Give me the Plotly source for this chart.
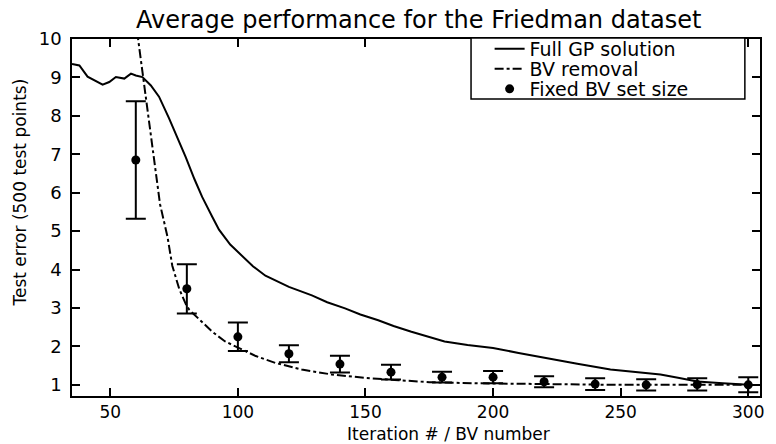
import plotly.graph_objects as go

# ---- data ----
full_x = [35, 37.9, 41.1, 43.75, 47, 49.6, 52.2, 55.5, 58.1, 60, 62.6, 65.9, 69.1, 73, 77,
          79.6, 83, 86, 90, 92.6, 97, 101.7, 106, 110.8, 120, 129, 135, 142, 148, 155,
          161, 168, 175, 181, 190, 200, 210, 220, 233, 246, 256, 265.6, 273, 280, 290, 300]
full_y = [9.35, 9.31, 9.02, 8.93, 8.81, 8.88, 9.01, 8.97, 9.10, 9.05, 9.01, 8.79, 8.50, 7.94, 7.34,
          6.92, 6.35, 5.89, 5.37, 5.04, 4.65, 4.35, 4.08, 3.84, 3.55, 3.33, 3.15, 2.99, 2.83, 2.68,
          2.53, 2.38, 2.25, 2.13, 2.04, 1.96, 1.83, 1.70, 1.55, 1.40, 1.33, 1.27, 1.18, 1.09, 1.04, 1.00]

bv_x = [60.5, 63.3, 66.5, 69.5, 72.4, 74.3, 77, 79.6, 81, 86, 90, 95, 100, 107, 114.7,
        125, 136.7, 150, 163, 175, 194, 220, 250, 300]
bv_y = [10.2, 8.8, 7.1, 5.7, 4.86, 4.1, 3.5, 3.1, 2.95, 2.64, 2.38, 2.13, 1.98, 1.75, 1.57,
        1.40, 1.27, 1.18, 1.12, 1.07, 1.04, 1.02, 1.00, 1.00]

fixed_x = [60, 80, 100, 120, 140, 160, 180, 200, 220, 240, 260, 280, 300]
fixed_y = [6.85, 3.50, 2.25, 1.81, 1.54, 1.33, 1.20, 1.20, 1.08, 1.02, 1.00, 1.01, 1.00]
fixed_err = [1.53, 0.64, 0.37, 0.22, 0.22, 0.19, 0.14, 0.16, 0.145, 0.155, 0.145, 0.16, 0.195]

x_ticks = [50, 100, 150, 200, 250, 300]
y_ticks = [1, 2, 3, 4, 5, 6, 7, 8, 9, 10]

series_names = ["Full GP solution", "BV removal", "Fixed BV set size"]
title_text = "Average performance for the Friedman dataset"
x_title = "Iteration # / BV number"
y_title = "Test error (500 test points)"

FONT = "DejaVu Sans"

fig = go.Figure()
fig.add_trace(go.Scatter(x=full_x, y=full_y, mode="lines", name=series_names[0],
                         legend="legend",
                         line=dict(color="black", width=2)))
fig.add_trace(go.Scatter(x=bv_x, y=bv_y, mode="lines", name=series_names[1],
                         legend="legend2",
                         line=dict(color="black", width=2, dash="dashdot")))
fig.add_trace(go.Scatter(x=fixed_x, y=fixed_y, mode="markers", name=series_names[2],
                         legend="legend3",
                         marker=dict(color="black", size=9, symbol="circle"),
                         error_y=dict(type="data", array=fixed_err, visible=True,
                                      color="black", thickness=2, width=10)))

axis_common = dict(showline=True, linecolor="black", linewidth=1.5, mirror="ticks",
                   ticks="inside", ticklen=8, tickwidth=1.5, tickcolor="black",
                   showgrid=False, zeroline=False)

fig.update_xaxes(range=[35, 304.6], tickvals=x_ticks, ticklabelstandoff=0,
                 tickfont=dict(family=FONT, size=17, color="black"), **axis_common)
fig.update_yaxes(range=[0.71, 10.0], tickvals=y_ticks, ticklabelstandoff=5,
                 tickfont=dict(family=FONT, size=18, color="black"), **axis_common)

# plot area: 72..763 px horizontally, 39..396 px vertically (height 357)
leg_font = dict(family=FONT, size=19, color="black")
leg_x = 0.607
def leg(yc):
    return dict(x=leg_x, xanchor="left", y=yc, yanchor="middle",
                bgcolor="rgba(0,0,0,0)", borderwidth=0, font=leg_font, itemwidth=30)

fig.update_layout(
    width=776, height=444,
    margin=dict(l=72, r=13, t=39, b=48),
    paper_bgcolor="white", plot_bgcolor="white",
    showlegend=True,
    legend=leg(0.9720),
    legend2=leg(0.9160),
    legend3=leg(0.8599),
    shapes=[dict(type="rect", xref="paper", yref="paper", x0=0.580, x1=0.978,
                 y0=0.8319, y1=1.0028, line=dict(color="black", width=1.5),
                 fillcolor="white", layer="above")],
    annotations=[
        dict(text=title_text, xref="paper", yref="paper", x=0.5036, y=1.0532,
             xanchor="center", yanchor="middle", showarrow=False,
             font=dict(family=FONT, size=24, color="black")),
        dict(text=x_title, xref="paper", yref="paper", x=0.547, y=-0.1064,
             xanchor="center", yanchor="middle", showarrow=False,
             font=dict(family=FONT, size=17, color="black")),
        dict(text=y_title, xref="paper", yref="paper", x=-0.077, y=0.57,
             xanchor="center", yanchor="middle", showarrow=False, textangle=-90,
             font=dict(family=FONT, size=17, color="black")),
    ],
)

fig.write_html("out.html", config={"displayModeBar": False},
               post_script="document.body.style.margin='0px';")
